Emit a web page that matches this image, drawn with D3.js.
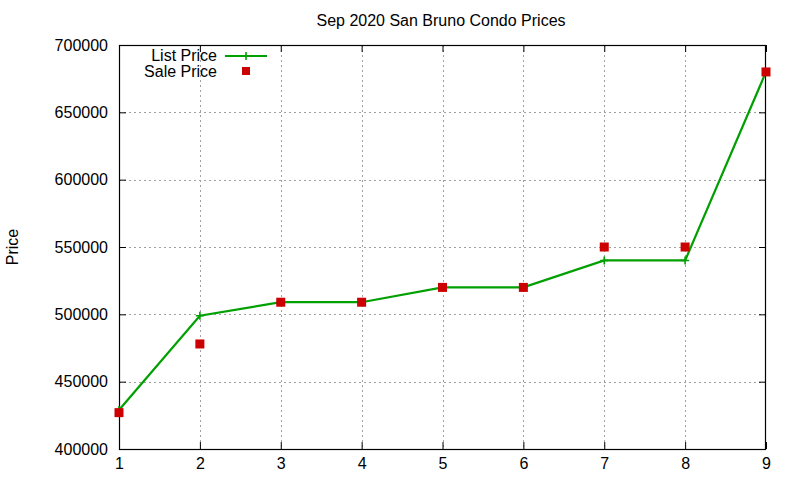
<!DOCTYPE html>
<html>
<head>
<meta charset="utf-8">
<title>Sep 2020 San Bruno Condo Prices</title>
<script src="https://d3js.org/d3.v7.min.js"></script>
<style>
  body { margin: 0; background: #fff; }
  svg { font-family: "Liberation Sans", Arial, sans-serif; }
</style>
</head>
<body>
<svg id="chart" width="800" height="480"></svg>
<script>
// data
var homes = [1, 2, 3, 4, 5, 6, 7, 8, 9];
var listPrice = [429000, 499000, 509000, 509000, 520000, 520000, 540000, 540000, 680000];
var salePrice = [427000, 478000, 509000, 509000, 520000, 520000, 550000, 550000, 680000];
var yTicks = [400000, 450000, 500000, 550000, 600000, 650000, 700000];

var svg = d3.select("#chart");
// plot box (window.top is taken, so prefixed names)
var pLeft = 119, pRight = 766, pTop = 45, pBottom = 449;

var x = d3.scaleLinear([1, 9], [pLeft, pRight]);
var y = d3.scaleLinear([400000, 700000], [pBottom, pTop]);

var green = "#00a000", red = "#cc0000";

// grid (dotted)
var grid = svg.append("g").attr("stroke", "#a0a0a0").attr("stroke-width", 1)
  .attr("stroke-dasharray", "2,3").attr("shape-rendering", "crispEdges");
grid.selectAll(".gx").data(homes.slice(1, -1)).join("line")
  .attr("x1", d => Math.round(x(d)) + 0.5).attr("x2", d => Math.round(x(d)) + 0.5)
  .attr("y1", pTop).attr("y2", pBottom);
grid.selectAll(".gy").data(yTicks.slice(1, -1)).join("line")
  .attr("x1", pLeft).attr("x2", pRight)
  .attr("y1", d => Math.round(y(d)) + 0.5).attr("y2", d => Math.round(y(d)) + 0.5);

// axes, gnuplot style: ticks inward, mirrored
var tk = 7;
var axB = d3.axisBottom(x).tickValues(homes).tickFormat(d3.format("d")).tickSizeInner(-tk).tickSizeOuter(0).tickPadding(9);
var axT = d3.axisTop(x).tickValues(homes).tickFormat("").tickSizeInner(-tk).tickSizeOuter(0);
var axL = d3.axisLeft(y).tickValues(yTicks).tickFormat(d3.format("d")).tickSizeInner(-tk).tickSizeOuter(0).tickPadding(11);
var axR = d3.axisRight(y).tickValues(yTicks).tickFormat("").tickSizeInner(-tk).tickSizeOuter(0);

function styleAxis(g) {
  g.select(".domain").remove();
  g.selectAll("line").attr("stroke", "#000");
  g.selectAll("text").attr("fill", "#000").attr("font-size", 16)
    .attr("font-family", "'Liberation Sans', Arial, sans-serif");
}
svg.append("g").attr("transform", "translate(0," + pBottom + ")").call(axB).call(styleAxis);
svg.append("g").attr("transform", "translate(0," + pTop + ")").call(axT).call(styleAxis);
svg.append("g").attr("transform", "translate(" + pLeft + ",0)").call(axL).call(styleAxis);
svg.append("g").attr("transform", "translate(" + pRight + ",0)").call(axR).call(styleAxis);

// border box
svg.append("rect").attr("x", pLeft + 0.5).attr("y", pTop + 0.5)
  .attr("width", pRight - pLeft - 1).attr("height", pBottom - pTop)
  .attr("fill", "none").attr("stroke", "#000").attr("stroke-width", 1.2);

// list price line
var line = d3.line().x((d, i) => x(homes[i])).y(d => y(d));
svg.append("path").datum(listPrice).attr("d", line)
  .attr("fill", "none").attr("stroke", green).attr("stroke-width", 2.2);

function plus(g, cx, cy) {
  g.append("path").attr("d", "M" + (cx - 4) + "," + cy + "h8M" + cx + "," + (cy - 4) + "v8")
    .attr("stroke", green).attr("stroke-width", 1.6);
}
var pg = svg.append("g");
listPrice.forEach((d, i) => plus(pg, x(homes[i]), y(d)));

// sale price squares
svg.append("g").selectAll("rect").data(salePrice).join("rect")
  .attr("x", (d, i) => x(homes[i]) - 4.5).attr("y", d => y(d) - 4.5)
  .attr("width", 9).attr("height", 9).attr("fill", red);

// legend
var lg = svg.append("g").attr("font-size", 16).attr("text-anchor", "end").attr("fill", "#000");
lg.append("text").attr("x", 217).attr("y", 61).text("List Price");
lg.append("text").attr("x", 217).attr("y", 77).text("Sale Price");
svg.append("line").attr("x1", 225).attr("x2", 267).attr("y1", 56).attr("y2", 56)
  .attr("stroke", green).attr("stroke-width", 2.2);
plus(svg, 246, 56);
svg.append("rect").attr("x", 242).attr("y", 67).attr("width", 8).attr("height", 8).attr("fill", red);

// title and y label
svg.append("text").attr("x", 441).attr("y", 26).attr("text-anchor", "middle")
  .attr("font-size", 16).text("Sep 2020 San Bruno Condo Prices");
svg.append("text").attr("transform", "translate(18,247) rotate(-90)")
  .attr("text-anchor", "middle").attr("font-size", 16).text("Price");
</script>
</body>
</html>
